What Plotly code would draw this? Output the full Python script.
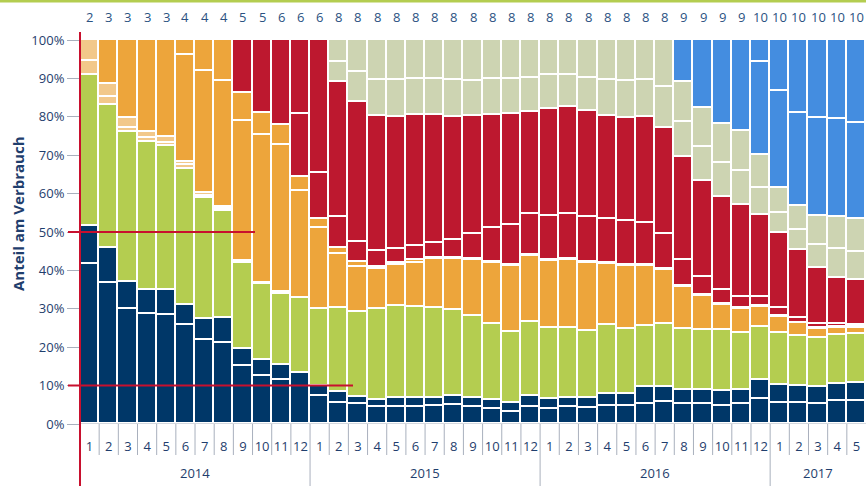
import plotly.graph_objects as go

# ---------------- data ----------------
months = ["1","2","3","4","5","6","7","8","9","10","11","12",
          "1","2","3","4","5","6","7","8","9","10","11","12",
          "1","2","3","4","5","6","7","8","9","10","11","12",
          "1","2","3","4","5"]
years = ["2014", "2015", "2016", "2017"]
year_months = [12, 12, 12, 5]
top_counts = [2,3,3,3,3,4,4,4,5,5,6,6,6,
              8,8,8,8,8,8,8,8,8,8,8,8,8,8,8,8,8,8,
              9,9,9,9,10,10,10,10,10,10]

db1 = [41.6,36.6,29.9,28.6,28.4,25.8,22.0,21.1,15.2,12.6,11.5,13.4,7.3,5.6,5.1,4.3,4.5,4.5,4.7,4.9,4.3,
       3.8,3.2,4.5,3.9,4.3,4.1,4.8,4.8,5.2,5.8,5.2,5.2,4.7,5.2,6.4,5.6,5.6,5.2,6.0,6.0]
db2 = [10.0,9.3,7.2,6.4,6.4,5.2,5.3,6.4,4.3,4.1,3.9,0,2.6,2.8,2.0,2.0,2.2,2.4,2.2,2.4,2.4,
       2.4,2.2,2.9,2.6,2.6,2.6,2.9,3.1,4.4,3.8,3.7,3.7,3.8,3.7,5.1,4.5,4.2,4.4,4.3,4.6]
gr = [39.3,37.3,38.9,38.5,37.7,35.5,31.5,28.1,22.3,19.7,18.5,19.3,20.0,21.7,22.0,23.6,24.0,23.6,23.2,22.4,21.5,
      19.8,18.6,19.2,18.6,18.0,17.6,18.1,16.8,15.9,16.4,15.9,15.7,16.0,14.8,13.8,13.5,13.2,12.7,12.8,12.8]
pe1 = [3.6,1.9,1.0,0.9,0.8,0.9,0.6,0.5,0.3,0.2,0.2] + [0]*30
pe2 = [5.5,3.4,2.6,1.7,1.4,0.8,0.7,0.3,0.3,0.2,0.2] + [0]*30
or1 = [0,11.5,20.4,23.9,25.3,27.9,31.7,32.8,36.4,38.5,38.4,28.1,21.1,14.3,11.7,10.4,10.7,11.3,12.8,13.2,14.4,
       16.0,17.1,17.2,17.3,17.8,17.5,15.9,16.5,15.6,14.1,10.9,8.7,6.5,6.3,5.2,4.3,3.2,2.5,1.9,1.7]
or2 = [0,0,0,0,0,3.9,8.2,10.8,7.5,5.8,5.1,3.5,2.4,1.5,1.4,0.7,0.4,0.8,0.3,0.3,0.3,
       0.3,0.3,0.3,0.3,0.3,0.3,0.3,0.3,0.3,0.3,0.3,0.3,0.3,0.3,0.3,0.3,0.2,0.2,0.2,0.2]
rd1 = [0,0,0,0,0,0,0,0,13.7,18.9,22.2,16.4,11.9,7.9,5.3,4.0,3.7,3.8,4.0,4.7,6.6,
       8.8,10.4,10.5,11.4,11.8,11.9,11.5,11.4,10.9,9.1,6.7,4.6,3.6,2.8,2.4,1.9,1.3,1.0,0.8,0.5]
rd2 = [0]*11 + [19.3,34.7,35.2,36.4,35.2,34.5,34.1,33.3,32.0,30.7,29.5,28.9,26.6,27.9,27.8,27.4,26.8,26.8,
                27.6,27.5,26.8,25.2,24.2,23.9,21.1,19.6,17.6,14.5,12.0,11.7]
gy1 = [0]*13 + [5.4,7.8,9.4,9.6,9.3,9.3,9.7,9.2,9.2,9.2,9.0,8.8,8.3,8.6,9.3,9.6,9.7,10.8,
                9.1,8.8,8.9,8.9,7.2,5.3,5.1,6.1,7.6,7.4]
gy2 = [0]*13 + [5.6,8.3,10.4,10.4,10.2,10.2,10.4,10.6,10.2,10.1,9.8,9.2,9.1,10.0,10.4,10.7,10.4,12.2,
                10.5,10.0,10.2,10.3,8.6,6.5,6.4,7.6,8.4,8.5]
bl1 = [0]*31 + [10.9,17.9,21.8,23.9,24.3,25.3,24.2,25.6,25.3,25.0]
bl2 = [0]*35 + [5.6,13.2,19.0,20.2,20.7,21.6]

# ---------------- style ----------------
C_DB = "#003768"
C_GR = "#b4cd50"
C_PE = "#f2c88a"
C_OR = "#eda53b"
C_RD = "#bd182f"
C_GY = "#cdd4b2"
C_BL = "#448de0"
C_TXT = "#1f3e6d"
C_REDLINE = "#c8102e"
FONT = "Open Sans"

series = [(db1, C_DB), (db2, C_DB), (gr, C_GR), (pe1, C_PE), (pe2, C_PE),
          (or1, C_OR), (or2, C_OR), (rd1, C_RD), (rd2, C_RD),
          (gy1, C_GY), (gy2, C_GY), (bl1, C_BL), (bl2, C_BL)]

xs = list(range(len(months)))
fig = go.Figure()
for vals, col in series:
    fig.add_trace(go.Bar(x=xs, y=vals, marker=dict(color=col, line=dict(color="white", width=1.6)),
                         showlegend=False, hoverinfo="skip"))

W, H = 866, 486
L, R, T, B = 80, 0, 40, 62
pw, ph = W - L - R, H - T - B

def py(pix):  # pixel y -> paper y
    return (H - B - pix) / ph

def px(pix):  # pixel x -> paper x
    return (pix - L) / pw

shapes = []
# top green line
shapes.append(dict(type="line", xref="paper", yref="paper", x0=px(0), x1=px(W), y0=py(1), y1=py(1),
                   line=dict(color=C_GR, width=3)))
# separators under axis
n = len(months)
bounds = []
acc = 0
for c in year_months:
    acc += c
    bounds.append(acc)
for i in range(1, n):
    long = i in bounds
    shapes.append(dict(type="line", xref="x", yref="paper", x0=i - 0.5, x1=i - 0.5,
                       y0=0, y1=py(486) if long else py(455),
                       line=dict(color="#a9b0bd", width=1)))
# axis baseline
shapes.append(dict(type="line", xref="paper", yref="y", x0=0, x1=1, y0=0, y1=0,
                   line=dict(color="#a9b0bd", width=1)))
# red reference lines
shapes.append(dict(type="line", xref="paper", yref="y", x0=px(68), x1=px(255), y0=50, y1=50,
                   line=dict(color=C_REDLINE, width=2)))
shapes.append(dict(type="line", xref="paper", yref="y", x0=px(68), x1=px(353), y0=10, y1=10,
                   line=dict(color=C_REDLINE, width=2)))
shapes.append(dict(type="line", xref="paper", yref="paper", x0=0, x1=0, y0=py(32), y1=py(486),
                   line=dict(color=C_REDLINE, width=2)))

annotations = []
for i, c in enumerate(top_counts):
    annotations.append(dict(x=i, y=py(17), xref="x", yref="paper", text=str(c), showarrow=False,
                            xanchor="center", yanchor="middle",
                            font=dict(family=FONT, size=13, color="#2b5282")))
start = 0
for yname, c in zip(years, year_months):
    annotations.append(dict(x=start + (c - 1) / 2, y=py(473), xref="x", yref="paper", text=yname,
                            showarrow=False, xanchor="center", yanchor="middle",
                            font=dict(family=FONT, size=13, color=C_TXT)))
    start += c
annotations.append(dict(x=px(18), y=py(214), xref="paper", yref="paper", text="<b>Anteil am Verbrauch</b>",
                        textangle=-90, showarrow=False, xanchor="center", yanchor="middle",
                        font=dict(family=FONT, size=15, color=C_TXT)))

fig.update_layout(
    width=W, height=H, margin=dict(l=L, r=R, t=T, b=B, autoexpand=False),
    barmode="stack", bargap=0,
    plot_bgcolor="white", paper_bgcolor="white",
    shapes=shapes, annotations=annotations,
    xaxis=dict(range=[-0.5, n - 0.5], tickmode="array", tickvals=xs, ticktext=months,
               ticks="", showgrid=False, zeroline=False, showline=False, automargin=False,
               tickfont=dict(family=FONT, size=13, color=C_TXT), ticklabelstandoff=13),
    yaxis=dict(range=[0, 100], tickmode="array", tickvals=list(range(0, 101, 10)),
               ticktext=[f"{v}%" for v in range(0, 101, 10)], automargin=False,
               ticks="outside", ticklen=12, tickcolor="#a9b0bd", tickwidth=1,
               showgrid=False, zeroline=False, showline=False,
               tickfont=dict(family=FONT, size=13, color=C_TXT)),
)

fig.write_html("out.html", config={"displayModeBar": False},
               post_script="document.body.style.margin='0';document.body.style.overflow='hidden';")
